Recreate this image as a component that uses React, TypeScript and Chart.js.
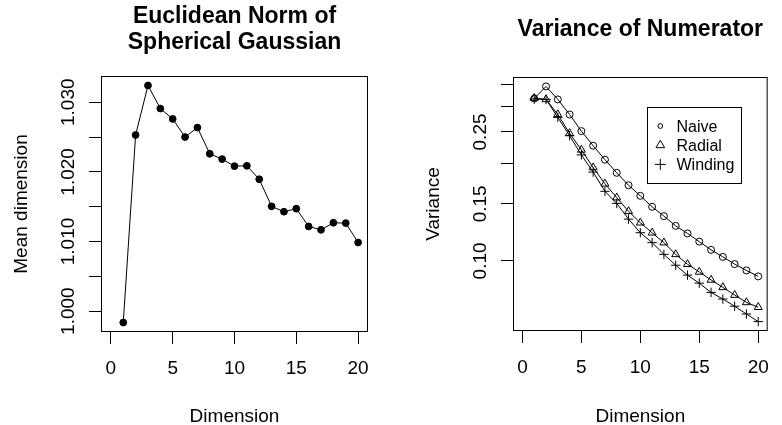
import React, { useEffect, useRef } from "react";
import { Chart, registerables } from "chart.js";

Chart.register(...registerables);

// ---------- data ----------
const dimensions = [1, 2, 3, 4, 5, 6, 7, 8, 9, 10, 11, 12, 13, 14, 15, 16, 17, 18, 19, 20];
const meanDimension = [
  0.99837, 1.02529, 1.0324, 1.02909, 1.0276, 1.025, 1.02635, 1.0226, 1.02183, 1.02082,
  1.02087, 1.01894, 1.01505, 1.01428, 1.01471, 1.01216, 1.01168, 1.01269, 1.01264, 1.00986,
];
const naive = [
  0.317, 0.3455, 0.315, 0.283, 0.2515, 0.2267, 0.2053, 0.187, 0.1712, 0.1588,
  0.1469, 0.1375, 0.1283, 0.1216, 0.1147, 0.1082, 0.1029, 0.0978, 0.0935, 0.0896,
];
const radial = [
  0.318, 0.315, 0.2832, 0.2476, 0.2201, 0.1942, 0.173, 0.1568, 0.1423, 0.1312,
  0.1222, 0.1139, 0.1048, 0.0977, 0.0925, 0.0874, 0.0829, 0.0785, 0.0745, 0.072,
];
const winding = [
  0.316, 0.315, 0.2773, 0.2435, 0.2124, 0.188, 0.164, 0.1505, 0.1346, 0.1222,
  0.1139, 0.1048, 0.097, 0.0904, 0.0854, 0.08, 0.0763, 0.0725, 0.0686, 0.065,
];
const seriesNames = ["Naive", "Radial", "Winding"];
const xTicks = [0, 5, 10, 15, 20];
const xRange = [0, 20];
const leftYTicks = [1.0, 1.005, 1.01, 1.015, 1.02, 1.025, 1.03];
const leftYTickLabels = ["1.000", "", "1.010", "", "1.020", "", "1.030"];
const rightYTicks = [0.1, 0.15, 0.2, 0.25, 0.3, 0.35];
const rightYTickLabels = ["0.10", "0.15", "", "0.25", "", ""];
const leftTitle = ["Euclidean Norm of", "Spherical Gaussian"];
const rightTitle = ["Variance of Numerator"];
const xAxisLabel = "Dimension";
const leftYAxisLabel = "Mean dimension";
const rightYAxisLabel = "Variance";

// ---------- style ----------
const FONT = '"Liberation Sans", Arial, Helvetica, sans-serif';
const AXIS_PX = 19;
const TITLE_PX = 23;
const LEGEND_PX = 16;

function extendLinear(vals: number[]) {
  const lo = Math.min(...vals);
  const hi = Math.max(...vals);
  const d = (hi - lo) * 0.04;
  return [lo - d, hi + d];
}
function extendLog(vals: number[]) {
  const lo = Math.log10(Math.min(...vals));
  const hi = Math.log10(Math.max(...vals));
  const d = (hi - lo) * 0.04;
  return [Math.pow(10, lo - d), Math.pow(10, hi + d)];
}

type DecorCfg = {
  title: string[];
  yLabel: string;
  yTicks: number[];
  yTickLabels: string[];
  legend?: { names: string[]; styles: string[] };
};

function drawMarker(ctx: CanvasRenderingContext2D, style: string, x: number, y: number, r: number) {
  ctx.beginPath();
  if (style === "circle") {
    ctx.arc(x, y, r, 0, Math.PI * 2);
  } else if (style === "triangle") {
    for (let k = 0; k < 3; k++) {
      const ang = (k * 2 * Math.PI) / 3;
      const px = x + Math.sin(ang) * r;
      const py = y - Math.cos(ang) * r;
      if (k === 0) ctx.moveTo(px, py);
      else ctx.lineTo(px, py);
    }
    ctx.closePath();
  } else {
    ctx.moveTo(x - r, y);
    ctx.lineTo(x + r, y);
    ctx.moveTo(x, y - r);
    ctx.lineTo(x, y + r);
  }
  ctx.stroke();
}

function makeDecor(cfg: DecorCfg) {
  return {
    id: "rdecor",
    afterDraw(chart: any) {
      const ctx: CanvasRenderingContext2D = chart.ctx;
      const a = chart.chartArea;
      const yScale = chart.scales.y;
      const cx = (a.left + a.right) / 2;
      const cy = (a.top + a.bottom) / 2;
      ctx.save();
      ctx.strokeStyle = "#000";
      ctx.fillStyle = "#000";
      ctx.lineWidth = 1;
      // box
      ctx.strokeRect(a.left + 0.5, a.top + 0.5, a.right - a.left - 1, a.bottom - a.top - 1);

      // y tick labels (rotated, parallel to axis)
      ctx.font = `${AXIS_PX}px ${FONT}`;
      ctx.textAlign = "center";
      ctx.textBaseline = "alphabetic";
      cfg.yTicks.forEach((v, i) => {
        const lab = cfg.yTickLabels[i];
        if (!lab) return;
        const py = yScale.getPixelForValue(v);
        ctx.save();
        ctx.translate(a.left - 27, py);
        ctx.rotate(-Math.PI / 2);
        ctx.fillText(lab, 0, 0);
        ctx.restore();
      });

      // y axis label
      ctx.save();
      ctx.translate(a.left - 74, cy);
      ctx.rotate(-Math.PI / 2);
      ctx.fillText(cfg.yLabel, 0, 0);
      ctx.restore();

      // x axis label
      ctx.fillText(xAxisLabel, cx, 421.5);

      // title
      ctx.font = `bold ${TITLE_PX}px ${FONT}`;
      const n = cfg.title.length;
      cfg.title.forEach((t, i) => {
        ctx.fillText(t, cx, 36 + (i - (n - 1) / 2) * 25.5);
      });

      // legend
      if (cfg.legend) {
        const bx = Math.round(a.left + 133.5) + 0.5;
        const by = Math.round(a.top + 29.7) + 0.5;
        ctx.strokeRect(bx, by, 94, 76);
        ctx.font = `${LEGEND_PX}px ${FONT}`;
        ctx.textAlign = "left";
        const sizes: Record<string, number> = { circle: 2.4, triangle: 5, cross: 5.5 };
        cfg.legend.names.forEach((name, i) => {
          const ry = by + 18.5 + i * 19.2;
          const st = cfg.legend!.styles[i];
          drawMarker(ctx, st, bx + 12.8, ry, sizes[st]);
          ctx.fillText(name, bx + 29, ry + 5.8);
        });
      }
      ctx.restore();
    },
  };
}

function baseScales(yCfg: any, yWidth: number, xHeight: number, yTicks: number[]) {
  const grid = { drawOnChartArea: false, drawTicks: true, tickLength: 12, color: "#000", lineWidth: 1 };
  return {
    x: {
      type: "linear",
      min: xRange[0] - (xRange[1] - xRange[0]) * 0.04,
      max: xRange[1] + (xRange[1] - xRange[0]) * 0.04,
      afterBuildTicks: (s: any) => {
        s.ticks = xTicks.map((v) => ({ value: v }));
      },
      afterFit: (s: any) => {
        s.height = xHeight;
      },
      grid,
      border: { display: false },
      ticks: {
        color: "#000",
        font: { family: FONT, size: AXIS_PX },
        padding: 13,
        maxRotation: 0,
        autoSkip: false,
        callback: (v: any) => String(v),
      },
    },
    y: {
      ...yCfg,
      afterBuildTicks: (s: any) => {
        s.ticks = yTicks.map((v) => ({ value: v }));
      },
      afterFit: (s: any) => {
        s.width = yWidth;
      },
      grid,
      border: { display: false },
      ticks: { display: false },
    },
  };
}

function useChart(ref: React.RefObject<HTMLCanvasElement>, build: () => any) {
  useEffect(() => {
    if (!ref.current) return;
    const chart = new Chart(ref.current, build());
    return () => chart.destroy();
  }, []);
}

export default function App() {
  const leftRef = useRef<HTMLCanvasElement>(null);
  const rightRef = useRef<HTMLCanvasElement>(null);

  useChart(leftRef, () => {
    const [ymin, ymax] = extendLinear(meanDimension);
    return {
      type: "line",
      data: {
        datasets: [
          {
            label: leftYAxisLabel,
            data: dimensions.map((d, i) => ({ x: d, y: meanDimension[i] })),
            borderColor: "#000",
            borderWidth: 1,
            pointStyle: "circle",
            pointRadius: 3.4,
            pointBackgroundColor: "#000",
            pointBorderColor: "#000",
            pointBorderWidth: 1,
            tension: 0,
            fill: false,
          },
        ],
      },
      options: {
        responsive: false,
        animation: false,
        devicePixelRatio: 1,
        layout: { padding: { top: 76, right: 23, left: 0, bottom: 0 } },
        plugins: { legend: { display: false }, tooltip: { enabled: false }, title: { display: false } },
        scales: baseScales({ type: "linear", min: ymin, max: ymax }, 101, 93, leftYTicks),
      },
      plugins: [
        makeDecor({ title: leftTitle, yLabel: leftYAxisLabel, yTicks: leftYTicks, yTickLabels: leftYTickLabels }),
      ],
    };
  });

  useChart(rightRef, () => {
    const [ymin, ymax] = extendLog([...naive, ...radial, ...winding]);
    const series = [naive, radial, winding];
    const styles = ["circle", "triangle", "cross"];
    const radii = [3.5, 4.6, 4.7];
    return {
      type: "line",
      data: {
        datasets: series.map((vals, k) => ({
          label: seriesNames[k],
          data: dimensions.map((d, i) => ({ x: d, y: vals[i] })),
          borderColor: "#000",
          borderWidth: 1,
          pointStyle: styles[k],
          pointRadius: radii[k],
          pointBackgroundColor: "rgba(0,0,0,0)",
          pointBorderColor: "#000",
          pointBorderWidth: 1,
          tension: 0,
          fill: false,
        })),
      },
      options: {
        responsive: false,
        animation: false,
        devicePixelRatio: 1,
        layout: { padding: { top: 77, right: 3, left: 0, bottom: 0 } },
        plugins: { legend: { display: false }, tooltip: { enabled: false }, title: { display: false } },
        scales: baseScales({ type: "logarithmic", min: ymin, max: ymax }, 122, 94, rightYTicks),
      },
      plugins: [
        makeDecor({
          title: rightTitle,
          yLabel: rightYAxisLabel,
          yTicks: rightYTicks,
          yTickLabels: rightYTickLabels,
          legend: { names: seriesNames, styles },
        }),
      ],
    };
  });

  return (
    <div style={{ position: "absolute", left: 0, top: 0, width: 782, height: 425, display: "flex", background: "#fff" }}>
      <canvas ref={leftRef} width={391} height={425} style={{ display: "block", width: 391, height: 425 }} />
      <canvas ref={rightRef} width={391} height={425} style={{ display: "block", width: 391, height: 425 }} />
    </div>
  );
}
